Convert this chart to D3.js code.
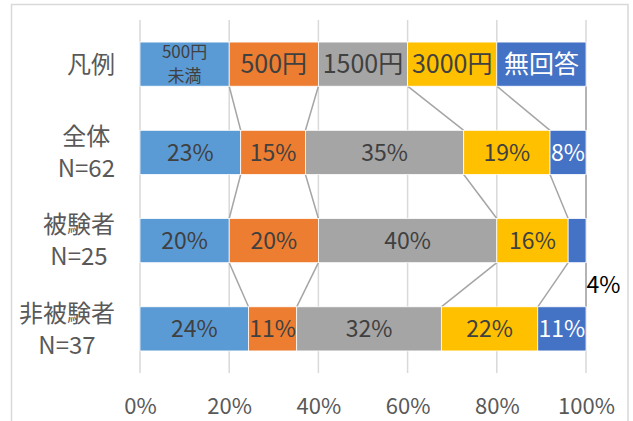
<!DOCTYPE html>
<html>
<head>
<meta charset="utf-8">
<script src="https://cdn.jsdelivr.net/npm/d3@7"></script>
<style>
  html, body { margin: 0; padding: 0; background: #fff; }
  svg { display: block; font-family: "Noto Sans CJK JP", "Noto Sans", sans-serif; }
</style>
</head>
<body>
<svg id="chart" width="633" height="421"></svg>
<script>
// Answer options (stack order, left to right)
const seriesNames = ["500円未満", "500円", "1500円", "3000円", "無回答"];
const seriesColors = ["#5B9BD5", "#ED7D31", "#A5A5A5", "#FFC000", "#4472C4"];
const seriesLabelLines = [["500円", "未満"], ["500円"], ["1500円"], ["3000円"], ["無回答"]];

// Respondent groups and their answer counts
const groups = ["全体", "被験者", "非被験者"];
const counts500Under = [14, 5, 9];
const counts500 = [9, 5, 4];
const counts1500 = [22, 10, 12];
const counts3000 = [12, 4, 8];
const countsNoAnswer = [5, 1, 4];

const tickValues = [0, 0.2, 0.4, 0.6, 0.8, 1.0];

// Build rows: a key row of equal segments, then one row per group
const countTable = [counts500Under, counts500, counts1500, counts3000, countsNoAnswer];
const rows = [{ key: "凡例", lines: ["凡例"], legend: true, values: seriesNames.map(() => 1) }]
  .concat(groups.map((g, i) => {
    const vals = countTable.map(c => c[i]);
    const n = d3.sum(vals);
    return { key: g, lines: [g, "N=" + n], legend: false, values: vals };
  }));
rows.forEach(r => {
  const total = d3.sum(r.values);
  let acc = 0;
  r.segs = r.values.map((v, k) => {
    const s = { k, x0: acc / total, share: v / total };
    acc += v;
    s.x1 = acc / total;
    return s;
  });
});

const svg = d3.select("#chart");
const x = d3.scaleLinear().domain([0, 1]).range([140, 586]);
const y = d3.scaleBand().domain(rows.map(r => r.key)).range([20, 373])
  .paddingInner(0.5).paddingOuter(0.25);

// Chart frame
svg.append("rect").attr("x", 11.5).attr("y", 4.5).attr("width", 616.5).attr("height", 440)
  .attr("fill", "none").attr("stroke", "#D9D9D9").attr("stroke-width", 1.5);

// Vertical gridlines
svg.append("g").selectAll("line").data(tickValues).join("line")
  .attr("x1", d => x(d)).attr("x2", d => x(d))
  .attr("y1", y.range()[0]).attr("y2", y.range()[1])
  .attr("stroke", "#D9D9D9").attr("stroke-width", 1.5);

// Percent axis
const axis = svg.append("g").attr("transform", `translate(0,${y.range()[1]})`)
  .call(d3.axisBottom(x).tickValues(tickValues).tickFormat(d3.format(".0%")).tickSize(0).tickPadding(0));
axis.select(".domain").remove();
axis.selectAll("text").attr("y", 33).attr("dy", "0.36em")
  .attr("font-size", 22).attr("fill", "#595959")
  .attr("font-family", "\"Noto Sans CJK JP\", sans-serif");

// Series lines between consecutive rows
const links = [];
for (let i = 0; i < rows.length - 1; i++) {
  for (let k = 0; k < seriesNames.length; k++) {
    links.push({ xa: rows[i].segs[k].x1, xb: rows[i + 1].segs[k].x1, ya: y(rows[i].key) + y.bandwidth(), yb: y(rows[i + 1].key) });
  }
}
svg.append("g").selectAll("line").data(links).join("line")
  .attr("x1", d => x(d.xa)).attr("y1", d => d.ya)
  .attr("x2", d => x(d.xb)).attr("y2", d => d.yb)
  .attr("stroke", "#A5A5A5").attr("stroke-width", 1.5);

// Bars
const rowG = svg.append("g").selectAll("g").data(rows).join("g")
  .attr("transform", d => `translate(0,${y(d.key)})`);

rowG.selectAll("rect").data(d => d.segs).join("rect")
  .attr("x", d => x(d.x0)).attr("width", d => x(d.x1) - x(d.x0))
  .attr("y", 0).attr("height", y.bandwidth())
  .attr("fill", d => seriesColors[d.k])
  .attr("stroke", "#fff").attr("stroke-width", 0.75);

const textColor = k => (k === 4 ? "#fff" : "#404040");
const bh = y.bandwidth();

// Key row labels (series names inside the equal segments)
rowG.filter(d => d.legend).each(function (r) {
  const g = d3.select(this);
  r.segs.forEach(s => {
    const lines = seriesLabelLines[s.k];
    const cx = (x(s.x0) + x(s.x1)) / 2;
    if (lines.length === 1) {
      g.append("text").attr("x", cx).attr("y", bh / 2).attr("dy", "0.36em")
        .attr("text-anchor", "middle").attr("font-size", 25).attr("fill", textColor(s.k))
        .text(lines[0]);
    } else {
      lines.forEach((t, j) => {
        g.append("text").attr("x", cx).attr("y", bh / 2 + (j - 0.5) * 24).attr("dy", "0.36em")
          .attr("text-anchor", "middle").attr("font-size", 17).attr("fill", textColor(s.k))
          .text(t);
      });
    }
  });
});

// Percentage labels for the group rows
const pct = d3.format(".0%");
rowG.filter(d => !d.legend).each(function (r) {
  const g = d3.select(this);
  r.segs.forEach(s => {
    const w = x(s.x1) - x(s.x0);
    const t = g.append("text").attr("font-size", 23).attr("dy", "0.36em").text(pct(s.share));
    if (w < 30) {
      // too narrow: place beside the bar end, below the row
      t.attr("x", x(s.x1) + 0.5).attr("y", bh + (y.step() - bh) / 2).attr("text-anchor", "start").attr("fill", "#000");
    } else {
      t.attr("x", (x(s.x0) + x(s.x1)) / 2).attr("y", bh / 2).attr("text-anchor", "middle").attr("fill", textColor(s.k));
    }
  });
});

// Row category labels (centred lines, block right-aligned)
const catRight = 115;
rows.forEach(r => {
  const g = svg.append("g");
  const cy = y(r.key) + bh / 2;
  const lh = 32;
  const texts = r.lines.map((t, j) => g.append("text")
    .attr("y", cy + (j - (r.lines.length - 1) / 2) * lh).attr("dy", "0.36em")
    .attr("font-size", 24).attr("fill", "#595959").attr("text-anchor", "middle").text(t));
  const maxW = d3.max(texts, t => t.node().getComputedTextLength());
  texts.forEach(t => t.attr("x", catRight - maxW / 2));
});
</script>
</body>
</html>
